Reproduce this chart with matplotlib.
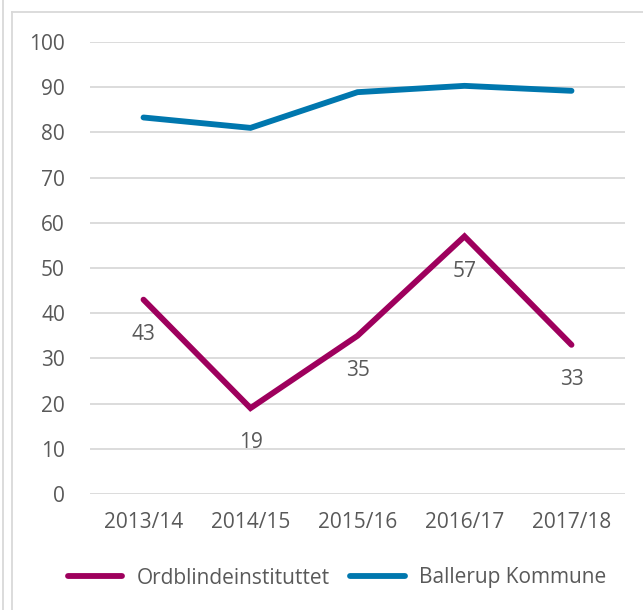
import matplotlib.pyplot as plt
from matplotlib.lines import Line2D

years = ['2013/14', '2014/15', '2015/16', '2016/17', '2017/18']
ordblinde = [43, 19, 35, 57, 33]
ballerup = [83.3, 81.0, 88.9, 90.3, 89.2]

purple = '#9E005D'
blue = '#0077AE'
grey_txt = '#595959'
grid_col = '#D9D9D9'

plt.rcParams['font.family'] = ['Open Sans', 'DejaVu Sans']
fs = 15

W, H = 643, 610
fig = plt.figure(figsize=(W / 100, H / 100), dpi=100)
ax = fig.add_axes([90 / W, 1 - 494 / H, (625 - 90) / W, (494 - 42) / H])

x = list(range(len(years)))
ax.plot(x, ordblinde, color=purple, lw=4.2, solid_capstyle='round',
        solid_joinstyle='miter', label='Ordblindeinstituttet')
ax.plot(x, ballerup, color=blue, lw=4.2, solid_capstyle='round',
        solid_joinstyle='miter', label='Ballerup Kommune')

for xi, v in zip(x, ordblinde):
    ax.annotate(str(v), (xi, v), xytext=(0, -25), textcoords='offset points',
                ha='center', va='center', fontsize=fs, color=grey_txt)

ax.set_xlim(-0.5, len(years) - 0.5)
ax.set_ylim(0, 100)
ax.set_yticks(range(0, 101, 10))
ax.set_xticks(x)
ax.set_xticklabels(years)
ax.tick_params(length=0, labelsize=fs, labelcolor=grey_txt)
ax.tick_params(axis='y', pad=18)
ax.tick_params(axis='x', pad=13)
ax.grid(axis='y', color=grid_col, lw=1.3)
ax.set_axisbelow(True)
for s in ax.spines.values():
    s.set_visible(False)

ax.legend(loc='center', bbox_to_anchor=(337 / W, 1 - 578 / H),
          bbox_transform=fig.transFigure, ncol=2, frameon=False,
          fontsize=fs, labelcolor=grey_txt, handlelength=2.6,
          columnspacing=1.0, handletextpad=0.7)

# outer frame lines
fig.add_artist(Line2D([3 / W, 3 / W], [0, 1], color=grid_col, lw=1.3))
fig.add_artist(Line2D([12 / W, 12 / W], [0, 1 - 12 / H], color=grid_col, lw=1.3))
fig.add_artist(Line2D([12 / W, 1], [1 - 12 / H, 1 - 12 / H], color=grid_col, lw=1.3))

fig.savefig('out.png', dpi=100)
